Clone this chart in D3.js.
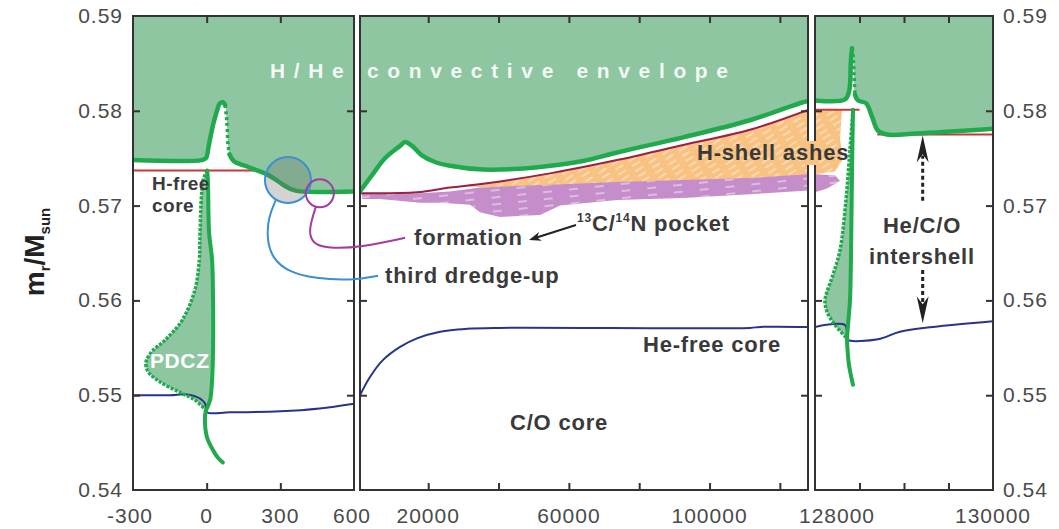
<!DOCTYPE html>
<html>
<head>
<meta charset="utf-8">
<script src="https://cdn.jsdelivr.net/npm/d3@7"></script>
<style>
  body { margin: 0; background: #fff; }
</style>
</head>
<body>
<div id="chart"></div>
<script>
// panel 1: time since pulse (yr), panel 2: interpulse, panel 3: next pulse
// every series is [time, m_r/M_sun]

// convective envelope lower edge
const env1Rise = [[-300, 0.5748], [-20, 0.5748], [-3, 0.5750], [9, 0.5764], [26, 0.5785], [42, 0.5800], [54, 0.5808], [66, 0.5809], [75, 0.5806]];
const env1Drop = [[75, 0.5806], [80, 0.5795], [83, 0.5785], [87, 0.5764], [93, 0.5754]];
const env1Tail = [[93, 0.5754], [110, 0.5747], [156, 0.5742], [197, 0.5738], [238, 0.5734], [278, 0.5728], [311, 0.5722], [347, 0.5717], [380, 0.5715], [600, 0.5715]];
const env2 = [[600, 0.5715], [4000, 0.5732], [7700, 0.5750], [12000, 0.5763], [13400, 0.5767], [15400, 0.5763], [18200, 0.5753], [21900, 0.5746], [26200, 0.5742], [35600, 0.5738], [49800, 0.5740], [64000, 0.5747], [73700, 0.5756], [92500, 0.5772], [111500, 0.5790], [126600, 0.5809], [128000, 0.5810]];
const env3Rise = [[128000, 0.5811], [128337, 0.5812], [128382, 0.5820], [128404, 0.5854], [128416, 0.5866]];
const env3Drop = [[128416, 0.5866], [128427, 0.5859], [128438, 0.5838], [128449, 0.5817]];
const env3Tail = [[128449, 0.5817], [128483, 0.5811], [128573, 0.5808], [128640, 0.5794], [128708, 0.5779], [128809, 0.5775], [129146, 0.5776], [130000, 0.5781]];

// pulse-driven convective zones
const pdcz1Right = [[2, 0.5737], [5, 0.5727], [10, 0.5671], [22, 0.5643], [26, 0.5600], [26, 0.5548], [22, 0.5516], [14, 0.5495], [-3, 0.5484]];
const pdcz1Left = [[2, 0.5737], [-14, 0.5727], [-27, 0.5671], [-30, 0.5643], [-48, 0.5611], [-100, 0.5579], [-170, 0.5558], [-223, 0.5546], [-247, 0.5535], [-239, 0.5525], [-190, 0.5514], [-109, 0.5503], [-48, 0.5495], [-3, 0.5484]];
const pdcz1Tail = [[-3, 0.5484], [-7, 0.5477], [1, 0.5456], [26, 0.5442], [46, 0.5434], [66, 0.5429]];
const pdcz3Right = [[128427, 0.5801], [128416, 0.5738], [128404, 0.5643], [128393, 0.5600], [128371, 0.5574], [128360, 0.5560]];
const pdcz3Left = [[128427, 0.5801], [128393, 0.5759], [128348, 0.5706], [128281, 0.5653], [128202, 0.5627], [128135, 0.5609], [128112, 0.5600], [128135, 0.5588], [128225, 0.5574], [128360, 0.5560]];
const pdcz3Tail = [[128360, 0.5560], [128362, 0.5553], [128382, 0.5532], [128427, 0.5511]];

// H-free core (red) and He-free core (blue)
const hfree1 = [[-300, 0.5737], [200, 0.5737]];
const hfree2 = [[600, 0.5713], [16800, 0.5714], [26200, 0.5719], [35600, 0.5723], [54600, 0.5734], [73700, 0.5748], [92500, 0.5764], [111500, 0.5780], [128000, 0.5801]];
const hfree3a = [[128000, 0.5801], [128500, 0.5801]];
const hfree3b = [[128700, 0.5775], [130000, 0.5775]];
const hefree1 = [[-300, 0.5500], [-150, 0.5500], [-88, 0.5501], [-48, 0.5499], [-15, 0.5494], [-3, 0.5489], [1, 0.5482], [95, 0.5482], [300, 0.5483], [460, 0.5486], [600, 0.5491]];
const hefree2 = [[600, 0.5500], [3400, 0.5519], [7100, 0.5537], [12000, 0.5551], [16800, 0.5560], [23400, 0.5567], [31000, 0.5570], [40400, 0.5571], [111500, 0.5571], [114400, 0.5572], [128000, 0.5572]];
const hefree3 = [[128000, 0.5572], [128337, 0.5574], [128360, 0.5560], [128371, 0.5558], [128708, 0.5559], [128955, 0.5567], [129326, 0.5572], [130000, 0.5578]];

// H-shell ashes and 13C/14N pocket outlines
const ashes2 = [[31000, 0.5721], [35600, 0.5723], [54600, 0.5734], [73700, 0.5748], [92500, 0.5764], [111500, 0.5780], [128000, 0.5801], [128000, 0.5731], [111500, 0.5727], [92500, 0.5725], [73700, 0.5723], [54600, 0.5720], [40000, 0.5719], [31000, 0.5720]];
const ashes3 = [[128000, 0.5801], [128303, 0.5801], [128281, 0.5770], [128315, 0.5749], [128225, 0.5736], [128000, 0.5733]];
const pocket2 = [[1200, 0.5713], [17700, 0.5713], [26200, 0.5715], [34700, 0.5719], [46100, 0.5721], [54600, 0.5722], [73700, 0.5725], [92500, 0.5727], [111500, 0.5729], [128000, 0.5733], [128000, 0.5716], [111500, 0.5712], [92500, 0.5708], [73700, 0.5706], [57500, 0.5700], [51800, 0.5690], [40400, 0.5688], [34700, 0.5693], [31900, 0.5701], [23400, 0.5703], [17700, 0.5703], [6300, 0.5707], [1200, 0.5707]];
const pocket3 = [[128000, 0.5733], [128225, 0.5732], [128281, 0.5726], [128135, 0.5718], [128000, 0.5714]];

// annotation leaders (panel 1 units)
const dredgeCircle = [331, 0.5727];
const formCircle = [461, 0.5713];
const dredgeLeader = [[282, 0.5706], [250, 0.5687], [246, 0.5664], [266, 0.5645], [331, 0.5630], [441, 0.5623], [592, 0.5621], [698, 0.5626]];
const formLeader = [[445, 0.5699], [425, 0.5683], [417, 0.5669], [441, 0.5658], [510, 0.5655], [624, 0.5656], [808, 0.5666]];

// axes
const yTicks = [0.54, 0.55, 0.56, 0.57, 0.58, 0.59];
const xTicks1 = [0, 300];
const xTicks2 = [20000, 40000, 60000, 80000, 100000, 120000];
const xTicks3 = [128500, 129000, 129500];
const xLabels = [[0, -300, -3], [0, 0, 0], [0, 300, 0], [0, 600, -2], [1, 20000, 0], [1, 60000, 0], [1, 100000, 0], [2, 128000, 22], [2, 130000, 0]];

const W = 1059, H = 529;
const GREEN_FILL = "#8dc6a0", GREEN = "#21aa4d", BLUE = "#27348b";
const INK = "#3a3a3a";

const y = d3.scaleLinear().domain([0.54, 0.59]).range([490, 16]);
const panels = [
  { domain: [-300, 600], range: [133, 354], ticks: xTicks1, red: "#c23a3c" },
  { domain: [600, 128000], range: [360, 808], ticks: xTicks2, red: "#9c1f44" },
  { domain: [128000, 130000], range: [815, 993], ticks: xTicks3, red: "#c23a3c" },
];
panels.forEach(p => (p.x = d3.scaleLinear().domain(p.domain).range(p.range)));

const svg = d3.select("#chart").append("svg")
  .attr("width", W).attr("height", H)
  .style("font-family", "'Liberation Sans', Arial, Helvetica, sans-serif");

const defs = svg.append("defs");
panels.forEach((p, i) => {
  defs.append("clipPath").attr("id", "clip" + i)
    .append("rect")
    .attr("x", p.range[0]).attr("y", y(0.59))
    .attr("width", p.range[1] - p.range[0]).attr("height", y(0.54) - y(0.59));
});
// white brush streaks on the ashes and the pocket
const pat = defs.append("pattern").attr("id", "streak")
  .attr("patternUnits", "userSpaceOnUse").attr("width", 16).attr("height", 6)
  .attr("patternTransform", "rotate(-32)");
pat.append("line").attr("x1", 0).attr("y1", 2).attr("x2", 9).attr("y2", 2)
  .attr("stroke", "#fff").attr("stroke-width", 1.2).attr("opacity", 0.6);
const pat2 = defs.append("pattern").attr("id", "streak2")
  .attr("patternUnits", "userSpaceOnUse").attr("width", 26).attr("height", 7)
  .attr("patternTransform", "rotate(-6)");
pat2.append("line").attr("x1", 0).attr("y1", 3).attr("x2", 9).attr("y2", 3)
  .attr("stroke", "#fff").attr("stroke-width", 1.5).attr("opacity", 0.55);

const smooth = d3.curveCatmullRom.alpha(0.5);

function drawPanel(p, i, layers) {
  const x = p.x;
  const g = svg.append("g").attr("clip-path", `url(#clip${i})`);
  const line = d3.line().x(d => x(d[0])).y(d => y(d[1])).curve(smooth);
  const poly = d3.line().x(d => x(d[0])).y(d => y(d[1]));
  const area = d3.area().x(d => x(d[0])).y0(y(0.59)).y1(d => y(d[1])).curve(smooth);

  const envPts = layers.env.flat().filter((d, k, a) => k === 0 || d[0] !== a[k - 1][0]);
  g.append("path").datum(envPts).attr("d", area).attr("fill", GREEN_FILL);
  if (layers.pdcz) {
    const pts = layers.pdcz.right.concat(layers.pdcz.left.slice().reverse());
    g.append("path").attr("d", d3.line().x(d => x(d[0])).y(d => y(d[1])).curve(d3.curveCatmullRomClosed.alpha(0.5))(pts))
      .attr("fill", GREEN_FILL);
  }
  (layers.ashes || []).forEach(a => {
    g.append("path").attr("d", poly(a) + "Z").attr("fill", "#f8c282");
    g.append("path").attr("d", poly(a) + "Z").attr("fill", "url(#streak)");
  });
  (layers.pocket || []).forEach(a => {
    g.append("path").attr("d", poly(a) + "Z").attr("fill", "#c68dcb");
    g.append("path").attr("d", poly(a) + "Z").attr("fill", "url(#streak2)");
  });

  layers.hfree.forEach(h => {
    g.append("path").datum(h).attr("d", line)
      .attr("fill", "none").attr("stroke", p.red).attr("stroke-width", 2);
  });
  g.append("path").datum(layers.hefree).attr("d", line)
    .attr("fill", "none").attr("stroke", BLUE).attr("stroke-width", 2);

  const solid = layers.env.length === 3 ? [layers.env[0], layers.env[2]] : [layers.env[0]];
  solid.forEach(s => {
    g.append("path").datum(s).attr("d", line)
      .attr("fill", "none").attr("stroke", GREEN).attr("stroke-width", 4.5)
      .attr("stroke-linejoin", "round").attr("stroke-linecap", "round");
  });
  if (layers.env.length === 3) {
    g.append("path").datum(layers.env[1]).attr("d", line)
      .attr("fill", "none").attr("stroke", GREEN).attr("stroke-width", 3.5)
      .attr("stroke-dasharray", "3 3");
  }
  if (layers.pdcz) {
    [layers.pdcz.right, layers.pdcz.tail].forEach(s => {
      g.append("path").datum(s).attr("d", line)
        .attr("fill", "none").attr("stroke", GREEN).attr("stroke-width", 4)
        .attr("stroke-linejoin", "round").attr("stroke-linecap", "round");
    });
    g.append("path").datum(layers.pdcz.left).attr("d", line)
      .attr("fill", "none").attr("stroke", GREEN).attr("stroke-width", 3.5)
      .attr("stroke-dasharray", "3 1.5");
  }

  // frame and inward ticks
  const fg = svg.append("g");
  fg.append("rect")
    .attr("x", p.range[0]).attr("y", y(0.59))
    .attr("width", p.range[1] - p.range[0]).attr("height", y(0.54) - y(0.59))
    .attr("fill", "none").attr("stroke", "#333").attr("stroke-width", 2);
  const tickStyle = s => s.call(a => a.select(".domain").remove())
    .call(a => a.selectAll("line").attr("stroke", "#333").attr("stroke-width", 2));
  fg.append("g").attr("transform", `translate(0,${y(0.54)})`)
    .call(d3.axisBottom(x).tickValues(p.ticks).tickSize(-7).tickFormat("")).call(tickStyle);
  fg.append("g").attr("transform", `translate(0,${y(0.59)})`)
    .call(d3.axisTop(x).tickValues(p.ticks).tickSize(-7).tickFormat("")).call(tickStyle);
  fg.append("g").attr("transform", `translate(${p.range[0]},0)`)
    .call(d3.axisLeft(y).tickValues(yTicks.slice(1, -1)).tickSize(-7).tickFormat("")).call(tickStyle);
  fg.append("g").attr("transform", `translate(${p.range[1]},0)`)
    .call(d3.axisRight(y).tickValues(yTicks.slice(1, -1)).tickSize(-7).tickFormat("")).call(tickStyle);
}

drawPanel(panels[0], 0, {
  env: [env1Rise, env1Drop, env1Tail],
  pdcz: { right: pdcz1Right, left: pdcz1Left, tail: pdcz1Tail },
  hfree: [hfree1], hefree: hefree1,
});
drawPanel(panels[1], 1, {
  env: [env2],
  ashes: [ashes2], pocket: [pocket2],
  hfree: [hfree2], hefree: hefree2,
});
drawPanel(panels[2], 2, {
  env: [env3Rise, env3Drop, env3Tail],
  pdcz: { right: pdcz3Right, left: pdcz3Left, tail: pdcz3Tail },
  ashes: [ashes3], pocket: [pocket3],
  hfree: [hfree3a, hfree3b], hefree: hefree3,
});

// tick labels
const labelFont = g => g.attr("font-size", 21).attr("fill", "#4a4a4a").attr("letter-spacing", 1);
svg.append("g").call(labelFont).selectAll("text").data(yTicks).join("text")
  .attr("x", 123).attr("y", d => y(d) + 7).attr("text-anchor", "end").text(d => d.toFixed(2));
svg.append("g").call(labelFont).selectAll("text").data(yTicks).join("text")
  .attr("x", 1003).attr("y", d => y(d) + 7).attr("text-anchor", "start").text(d => d.toFixed(2));
svg.append("g").call(labelFont).selectAll("text").data(xLabels).join("text")
  .attr("x", d => panels[d[0]].x(d[1]) + d[2]).attr("y", 523).attr("text-anchor", "middle")
  .text(d => d[1]);

// y axis title
const yt = svg.append("text").attr("transform", "translate(44,252) rotate(-90)")
  .attr("text-anchor", "middle").attr("font-size", 28).attr("font-weight", "bold").attr("fill", "#222");
yt.append("tspan").text("m");
yt.append("tspan").attr("font-size", 15).attr("dy", 6).text("r");
yt.append("tspan").attr("dy", -6).text("/M");
yt.append("tspan").attr("font-size", 15).attr("dy", 6).text("sun");

// annotations
const x1 = panels[0].x;
const ann = svg.append("g");

// the ashes label sits over the gap between panels 2 and 3
ann.append("rect").attr("x", 805).attr("y", 141).attr("width", 13).attr("height", 24).attr("fill", "#f8c282");

ann.append("circle").attr("cx", x1(dredgeCircle[0])).attr("cy", y(dredgeCircle[1])).attr("r", 23)
  .attr("fill", "rgba(110,110,110,0.3)").attr("stroke", "#3b8fd2").attr("stroke-width", 2);
ann.append("circle").attr("cx", x1(formCircle[0])).attr("cy", y(formCircle[1])).attr("r", 14)
  .attr("fill", "none").attr("stroke", "#a43aa2").attr("stroke-width", 2);
const lead = d3.line().x(d => x1(d[0])).y(d => y(d[1])).curve(d3.curveBasis);
ann.append("path").datum(dredgeLeader).attr("d", lead)
  .attr("fill", "none").attr("stroke", "#3b8fd2").attr("stroke-width", 2);
ann.append("path").datum(formLeader).attr("d", lead)
  .attr("fill", "none").attr("stroke", "#a43aa2").attr("stroke-width", 2);

const txt = (x, yy, s, opts = {}) => ann.append("text")
  .attr("x", x).attr("y", yy).attr("font-size", opts.size || 22).attr("font-weight", "bold")
  .attr("fill", opts.fill || INK).attr("letter-spacing", opts.ls == null ? 0.8 : opts.ls)
  .attr("text-anchor", opts.anchor || "start").text(s);

ann.append("text").attr("x", 270).attr("y", 78).attr("font-size", 21).attr("font-weight", "bold")
  .attr("fill", "#fff").attr("opacity", 0.9).attr("textLength", 458).attr("lengthAdjust", "spacing")
  .text("H/He convective envelope");
txt(152, 190, "H-free", { size: 19, ls: 0.5 });
txt(152, 212, "core", { size: 19, ls: 0.5 });
txt(150, 368, "PDCZ", { size: 21, fill: "#fff", ls: 0.6 });
txt(414, 245, "formation");
txt(385, 283, "third dredge-up");
txt(643, 352, "He-free core");
txt(510, 430, "C/O core");
txt(697, 160, "H-shell ashes");
txt(922, 233, "He/C/O", { anchor: "middle" });
txt(922, 264, "intershell", { anchor: "middle" });

const pk = ann.append("text").attr("x", 577).attr("y", 231).attr("font-size", 22)
  .attr("font-weight", "bold").attr("fill", INK).attr("letter-spacing", 0.8);
pk.append("tspan").attr("font-size", 12).attr("dy", -9).text("13");
pk.append("tspan").attr("dy", 9).text("C/");
pk.append("tspan").attr("font-size", 12).attr("dy", -9).text("14");
pk.append("tspan").attr("dy", 9).text("N pocket");

// pocket -> formation arrow
function arrowHead(tx, ty, ang, len, half) {
  const c = Math.cos(ang), s = Math.sin(ang);
  const bx = tx - c * len, by = ty - s * len;
  const nx = -s * half, ny = c * half;
  const mx = tx - c * len * 0.7, my = ty - s * len * 0.7;
  return `M${tx},${ty}L${bx + nx},${by + ny}L${mx},${my}L${bx - nx},${by - ny}Z`;
}
{
  const sx = 576, sy = 225, tx = 529, ty = 240;
  const ang = Math.atan2(ty - sy, tx - sx);
  ann.append("line").attr("x1", sx).attr("y1", sy).attr("x2", tx - Math.cos(ang) * 8).attr("y2", ty - Math.sin(ang) * 8)
    .attr("stroke", "#222").attr("stroke-width", 2);
  ann.append("path").attr("d", arrowHead(tx, ty, ang, 12, 4.5)).attr("fill", "#222");
}

// intershell double arrow (panel 3)
{
  const x3 = panels[2].x;
  const ax = x3(129210);
  const up = y(0.5774), dn = y(0.5576);
  ann.append("line").attr("x1", ax).attr("x2", ax).attr("y1", y(0.5705)).attr("y2", up + 20)
    .attr("stroke", "#222").attr("stroke-width", 3).attr("stroke-dasharray", "4 3");
  ann.append("path").attr("d", arrowHead(ax, up, -Math.PI / 2, 27, 6)).attr("fill", "#222");
  ann.append("line").attr("x1", ax).attr("x2", ax).attr("y1", y(0.5632)).attr("y2", dn - 20)
    .attr("stroke", "#222").attr("stroke-width", 3).attr("stroke-dasharray", "4 3");
  ann.append("path").attr("d", arrowHead(ax, dn, Math.PI / 2, 27, 6)).attr("fill", "#222");
}
</script>
</body>
</html>
